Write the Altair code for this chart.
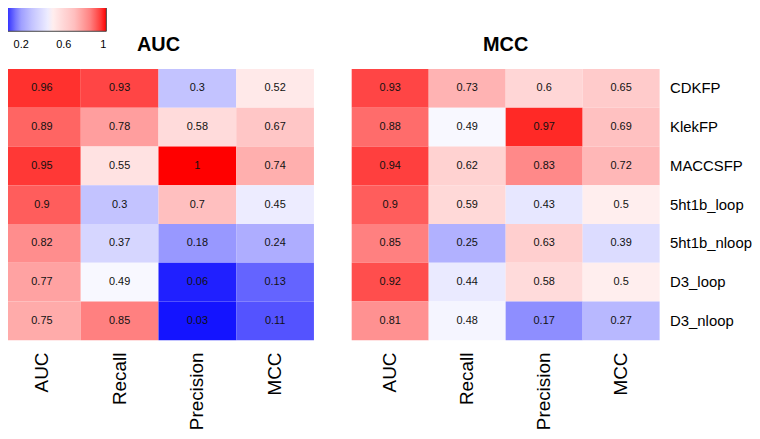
import altair as alt
import pandas as pd

datasets = ["CDKFP", "KlekFP", "MACCSFP", "5ht1b_loop", "5ht1b_nloop", "D3_loop", "D3_nloop"]
metrics = ["AUC", "Recall", "Precision", "MCC"]

# rows = datasets, columns = metrics
auc_panel = [
    [0.96, 0.93, 0.30, 0.52],
    [0.89, 0.78, 0.58, 0.67],
    [0.95, 0.55, 1.00, 0.74],
    [0.90, 0.30, 0.70, 0.45],
    [0.82, 0.37, 0.18, 0.24],
    [0.77, 0.49, 0.06, 0.13],
    [0.75, 0.85, 0.03, 0.11],
]
mcc_panel = [
    [0.93, 0.73, 0.60, 0.65],
    [0.88, 0.49, 0.97, 0.69],
    [0.94, 0.62, 0.83, 0.72],
    [0.90, 0.59, 0.43, 0.50],
    [0.85, 0.25, 0.63, 0.39],
    [0.92, 0.44, 0.58, 0.50],
    [0.81, 0.48, 0.17, 0.27],
]

color_stops = [0.03, 0.06, 0.13, 0.18, 0.30, 0.50, 0.70, 0.85, 0.93, 1.00]
color_values = ["#1414ff", "#2020ff", "#6464ff", "#9898ff", "#c3c3ff",
                "#ffffff", "#ffbfbf", "#ff8080", "#ff4545", "#ff0000"]
legend_labels = [0.2, 0.6, 1.0]

FONT = "Liberation Sans"


def to_df(mat):
    rows = []
    for i, d in enumerate(datasets):
        for j, m in enumerate(metrics):
            rows.append({"dataset": d, "metric": m, "value": mat[i][j]})
    return pd.DataFrame(rows)


color_scale = alt.Scale(domain=color_stops, range=color_values)


def panel(mat, title, show_y, width):
    base = alt.Chart(to_df(mat))
    x = alt.X("metric:N", sort=metrics, title=None,
              axis=alt.Axis(labelAngle=-90, labelFontSize=19, labelPadding=12,
                            ticks=False, domain=False, labelColor="#000000",
                            labelFont=FONT))
    if show_y:
        y = alt.Y("dataset:N", sort=datasets, title=None,
                  axis=alt.Axis(orient="right", labelFontSize=15, labelPadding=10,
                                ticks=False, domain=False, labelColor="#000000",
                                labelFont=FONT))
    else:
        y = alt.Y("dataset:N", sort=datasets, title=None, axis=None)
    rect = base.mark_rect().encode(
        x=x, y=y,
        color=alt.Color("value:Q", scale=color_scale,
                        legend=alt.Legend(orient="none", legendX=0, legendY=-65,
                                          direction="horizontal", title=None,
                                          gradientLength=104, gradientThickness=27,
                                          gradientStrokeColor="#444444",
                                          gradientStrokeWidth=1,
                                          values=legend_labels, format=".1~f",
                                          labelFontSize=11, labelFont=FONT,
                                          labelColor="#000000", labelOffset=8)),
    )
    text = base.mark_text(fontSize=11, font=FONT, color="#111111").encode(
        x=alt.X("metric:N", sort=metrics),
        y=alt.Y("dataset:N", sort=datasets),
        text=alt.Text("value:Q", format=".2~f"),
    )
    return (rect + text).properties(
        width=width, height=273,
        title=alt.TitleParams(title, fontSize=20, fontWeight="bold", font=FONT,
                              anchor="middle", offset=14, color="#000000"),
    )


chart = alt.hconcat(
    panel(auc_panel, "AUC", False, 313),
    panel(mcc_panel, "MCC", True, 310),
    spacing=38,
).properties(
    padding={"left": -5, "top": -5, "right": 0, "bottom": 0}
).configure_view(stroke=None).configure_scale(bandPaddingInner=0)

chart.save("out.html", embed_options={"renderer": "svg", "actions": False})
